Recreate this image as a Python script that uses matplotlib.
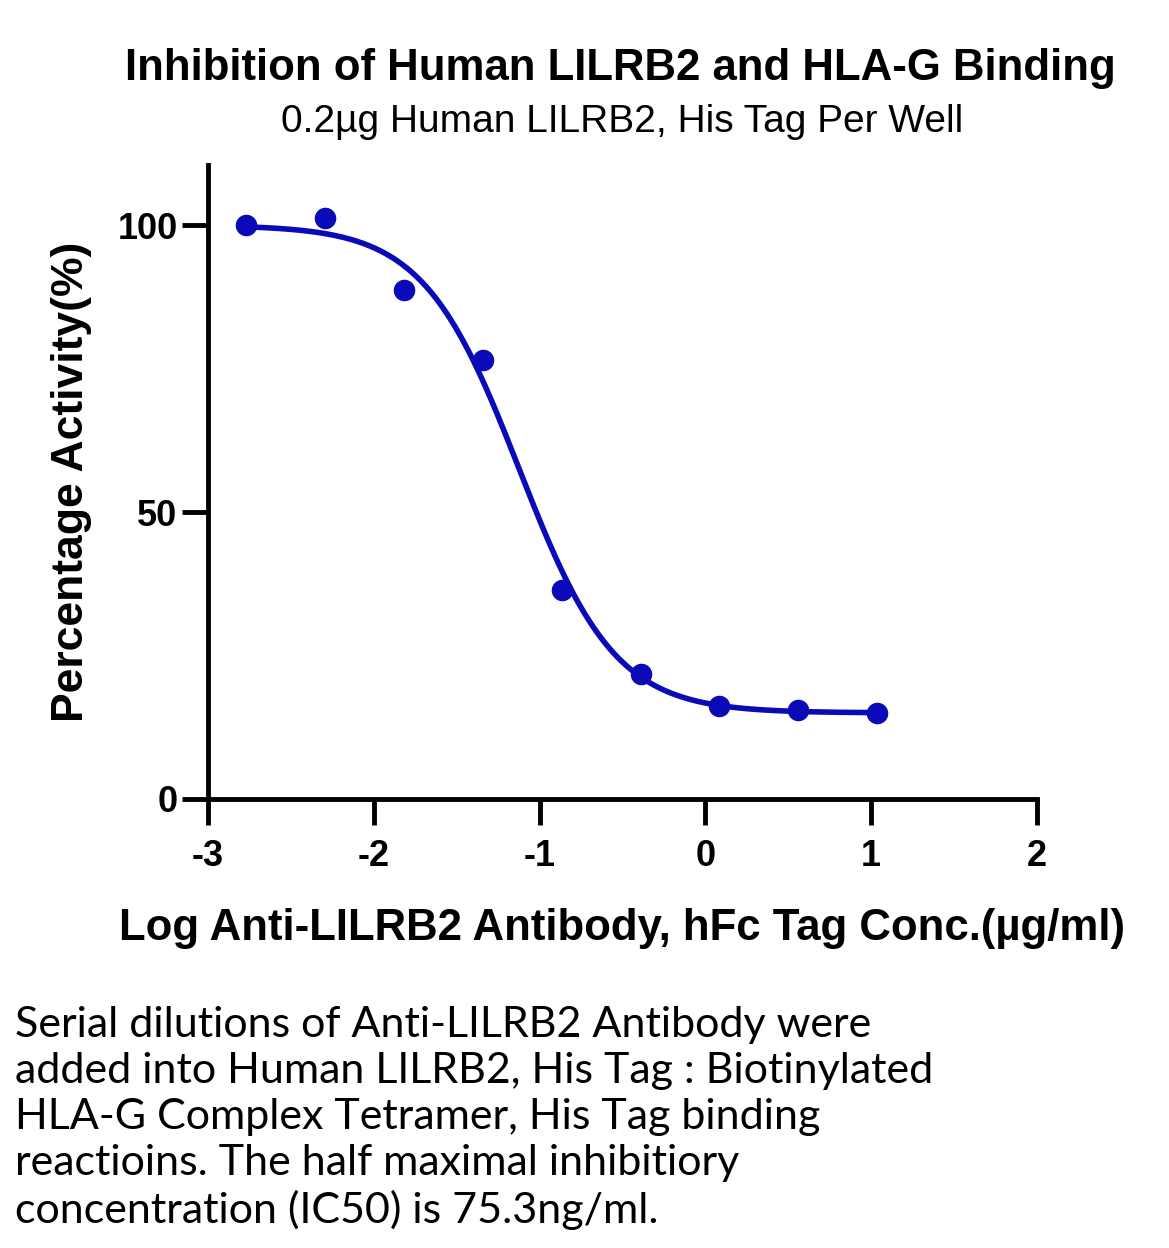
import numpy as np
import matplotlib
matplotlib.use("Agg")
import matplotlib.pyplot as plt

# measured points (log conc, % activity)
log_conc = [-2.771, -2.294, -1.818, -1.341, -0.865, -0.388, 0.082, 0.559, 1.035]
activity = [100.0, 101.2, 88.7, 76.5, 36.4, 21.8, 16.2, 15.5, 15.0]

# 4PL fit parameters
top = 100.0
bottom = 15.0
log_ic50 = -1.123
hill = 1.5

x_ticks = [-3, -2, -1, 0, 1, 2]
y_ticks = [0, 50, 100]

title = "Inhibition of Human LILRB2 and HLA-G Binding"
subtitle = "0.2µg Human LILRB2, His Tag Per Well"
xlabel = "Log Anti-LILRB2 Antibody, hFc Tag Conc.(µg/ml)"
ylabel = "Percentage Activity(%)"
caption = ("Serial dilutions of Anti-LILRB2 Antibody were\n"
           "added into Human LILRB2, His Tag : Biotinylated\n"
           "HLA-G Complex Tetramer, His Tag binding\n"
           "reactioins. The half maximal inhibitiory\n"
           "concentration (IC50) is 75.3ng/ml.")

blue = "#0a0ab8"

plt.rcParams["font.family"] = ["Liberation Sans", "DejaVu Sans"]

fig = plt.figure(figsize=(11.69, 12.48), dpi=100)
ax = fig.add_axes([0.178, 0.3598, 0.709, 0.508])

xs = np.linspace(log_conc[0], log_conc[-1], 400)
ys = bottom + (top - bottom) / (1 + 10 ** ((xs - log_ic50) * hill))
ax.plot(xs, ys, color=blue, lw=4, zorder=2)
ax.plot(log_conc, activity, "o", color=blue, ms=14.5, zorder=3, clip_on=False)

ax.set_xlim(-3, 2)
ax.set_ylim(0, 110.5)
ax.set_xticks(x_ticks)
ax.set_yticks(y_ticks)
ax.set_xticklabels([str(t) for t in x_ticks])
ax.spines["top"].set_visible(False)
ax.spines["right"].set_visible(False)
for s in ["left", "bottom"]:
    ax.spines[s].set_linewidth(3.5)
ax.tick_params(width=3.5, length=19, labelsize=26)
ax.tick_params(axis="x", pad=10)
ax.tick_params(axis="y", pad=3)
for lab in ax.get_xticklabels() + ax.get_yticklabels():
    lab.set_fontweight("bold")

ax.set_xlabel(xlabel, fontsize=31.5, fontweight="bold", labelpad=24)
ax.set_ylabel(ylabel, fontsize=32, fontweight="bold", labelpad=18)

fig.text(0.531, 0.945, title, fontsize=31.5, fontweight="bold", ha="center", va="center")
fig.text(0.532, 0.902, subtitle, fontsize=28, ha="center", va="center")
fig.text(0.013, 0.104, caption, fontsize=31, family=["Lato", "DejaVu Sans"],
         ha="left", va="center", linespacing=1.25)

fig.savefig("out.png", dpi=100)
